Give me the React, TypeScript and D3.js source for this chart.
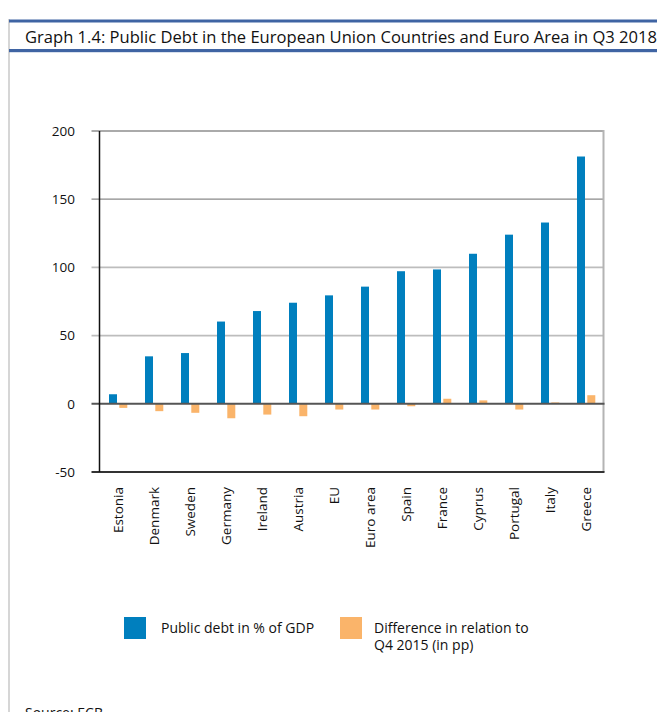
import React from "react";
import * as d3 from "d3";

// Public debt (% of GDP, Q3 2018) and change versus Q4 2015 (pp)
const countries = [
  "Estonia", "Denmark", "Sweden", "Germany", "Ireland", "Austria", "EU",
  "Euro area", "Spain", "France", "Cyprus", "Portugal", "Italy", "Greece",
];
const debt = [7, 34.8, 37.2, 60.3, 68, 74.1, 79.5, 85.9, 97.2, 98.5, 110, 124, 132.9, 181.3];
const diff = [-3, -5.4, -6.6, -10.6, -7.9, -9.1, -4.2, -4.2, -1.8, 3.7, 2.5, -4.2, 1, 6.3];
const yTicks = [-50, 0, 50, 100, 150, 200];

const W = 657;
const H = 712;
const FONT = "'Open Sans', 'Noto Sans', sans-serif";
const BLUE = "#007fbe";
const ORANGE = "#fab46a";
const FRAME_BLUE = "#3f64a3";

export default function App() {
  const left = 99.5;
  const right = 603.5;
  const top = 131;
  const bottom = 472;

  const x = d3.scaleBand<string>().domain(countries).range([left, right]).padding(0);
  const y = d3.scaleLinear().domain([-50, 200]).range([bottom, top]);
  const bw = x.bandwidth();

  const gridStyle = (t: number) => {
    if (t === 0) return { stroke: "#555", w: 2 };
    if (t === -50) return { stroke: "#333", w: 2 };
    if (t === 150) return { stroke: "#8a8a8a", w: 1.2 };
    if (t === 200) return { stroke: "#aaa", w: 2 };
    return { stroke: "#bdbdbd", w: 1.6 };
  };

  return (
    <svg
      width={W}
      height={H}
      viewBox={`0 0 ${W} ${H}`}
      style={{ position: "absolute", left: 0, top: 0, background: "#fff" }}
      fontFamily={FONT}
    >
      <rect x={0} y={0} width={W} height={H} fill="#fff" />

      {/* frame and title band */}
      <line x1={9} x2={9} y1={19} y2={H} stroke="#c8c8c8" strokeWidth={1.5} />
      <rect x={9} y={19.5} width={W - 9} height={3} fill={FRAME_BLUE} />
      <rect x={9} y={49} width={W - 9} height={3.2} fill={FRAME_BLUE} />
      <text
        x={25}
        y={43}
        fontSize={15.5}
        fill="#111"
        textLength={632}
        lengthAdjust="spacingAndGlyphs"
      >
        Graph 1.4: Public Debt in the European Union Countries and Euro Area in Q3 2018
      </text>

      {/* gridlines */}
      {yTicks
        .filter((t) => t !== 0 && t !== -50)
        .map((t) => {
          const s = gridStyle(t);
          return (
            <line key={t} x1={91.5} x2={right} y1={y(t)} y2={y(t)} stroke={s.stroke} strokeWidth={s.w} />
          );
        })}

      {/* right border */}
      <line x1={right} x2={right} y1={top - 1} y2={bottom} stroke="#b4b4b4" strokeWidth={2} />

      {/* bars */}
      {countries.map((c, i) => {
        const cx = (x(c) as number) + bw / 2;
        const v = debt[i];
        const d = diff[i];
        return (
          <g key={c}>
            <rect x={cx - 8.5} width={8} y={y(Math.max(0, v))} height={Math.abs(y(v) - y(0))} fill={BLUE} />
            <rect x={cx + 1.8} width={8} y={y(Math.max(0, d))} height={Math.abs(y(d) - y(0))} fill={ORANGE} />
          </g>
        );
      })}

      {/* zero and bottom lines */}
      {[0, -50].map((t) => {
        const s = gridStyle(t);
        return (
          <line key={t} x1={91.5} x2={right + 1} y1={y(t)} y2={y(t)} stroke={s.stroke} strokeWidth={s.w} />
        );
      })}

      {/* y axis */}
      <line x1={left} x2={left} y1={top} y2={bottom} stroke="#111" strokeWidth={1.5} />
      {yTicks.map((t) => (
        <text key={t} x={75} y={y(t)} dy="0.35em" textAnchor="end" fontSize={13.5} fill="#111">
          {t}
        </text>
      ))}

      {/* category labels */}
      {countries.map((c) => {
        const cx = (x(c) as number) + bw / 2 + 1;
        return (
          <text
            key={c}
            transform={`translate(${cx},487) rotate(-90)`}
            textAnchor="end"
            dy="0.35em"
            fontSize={13.5}
            fill="#111"
          >
            {c}
          </text>
        );
      })}

      {/* legend */}
      <rect x={124} y={617} width={22} height={22} fill={BLUE} />
      <text x={161} y={633} fontSize={14} fill="#111">
        Public debt in % of GDP
      </text>
      <rect x={340} y={617} width={22} height={22} fill={ORANGE} />
      <text x={374} y={633} fontSize={14} fill="#111">
        Difference in relation to
      </text>
      <text x={374} y={650} fontSize={14} fill="#111">
        Q4 2015 (in pp)
      </text>

      {/* source */}
      <text x={25} y={718} fontSize={14} fill="#111">
        Source: ECB
      </text>
    </svg>
  );
}
